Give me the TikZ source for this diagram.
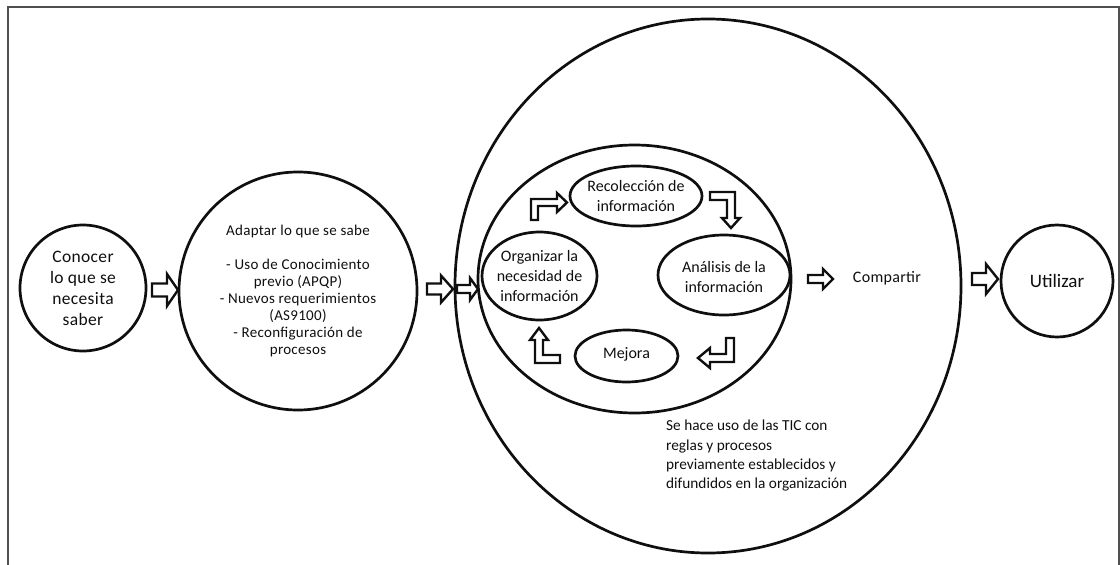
\documentclass[tikz,border=0pt]{standalone}
\usepackage{fontspec}
\setmainfont{Carlito}
\newfontfamily\widefont[LetterSpace=2]{Carlito}
\usetikzlibrary{shapes.geometric}
\definecolor{framegray}{RGB}{80,80,80}
\definecolor{ink}{RGB}{15,15,15}
% hollow block arrow pointing right: tail x, tip x, axis y, shaft half width, head half width, head length
\newcommand\hollowarrow[6]{%
  \draw[blockarrow] ({#1},{#3-#4}) -- ({#2-#6},{#3-#4}) -- ({#2-#6},{#3-#5}) -- ({#2},{#3})
    -- ({#2-#6},{#3+#5}) -- ({#2-#6},{#3+#4}) -- ({#1},{#3+#4}) -- cycle;}
\begin{document}
\begin{tikzpicture}[x=1pt,y=-1pt,
  ring/.style={draw=ink, line width=2.7pt, inner sep=0pt},
  circ/.style={ring, circle},
  oval/.style={ring, ellipse},
  txt/.style={font=\fontsize{16}{20}\selectfont, align=center, text=ink},
  blockarrow/.style={draw=ink, line width=2.4pt, fill=white, line join=miter}]
\useasboundingbox (0,0) rectangle (1120,565);

% page frame
\draw[framegray, line width=2pt] (8,565) -- (8,7) -- (1119,7) -- (1119,565);

% stages
\node[circ, minimum size=126pt, font=\widefont\fontsize{17.5}{21}\selectfont, align=center, text=ink]
  (conocer) at (83,288) {Conocer\\lo que se\\necesita\\saber};
\node[circ, minimum size=238pt, font=\widefont\fontsize{15}{17}\selectfont, align=center, text=ink]
  (adaptar) at (298,291) {Adaptar lo que se sabe\\[17pt]- Uso de Conocimiento\\previo (APQP)\\- Nuevos requerimientos\\(AS9100)\\- Reconfiguración de\\procesos};
\node[oval, minimum width=506pt, minimum height=534pt] (tic) at (708,286) {};
\node[oval, minimum width=313pt, minimum height=268pt] (ciclo) at (634.5,279) {};
\node[circ, minimum size=112pt, font=\fontsize{19}{22}\selectfont, text=ink]
  (utilizar) at (1057,281) {Utilizar};

% inner cycle
\node[oval, minimum width=132pt, minimum height=60pt,
  label={[txt]center:Recolección de\\información}] (recoleccion) at (636,196) {};
\node[oval, minimum width=115pt, minimum height=88pt,
  label={[txt]center:Organizar la\\necesidad de\\información}] (organizar) at (539.5,276) {};
\node[oval, minimum width=132pt, minimum height=80pt,
  label={[txt, yshift=-2pt]center:Análisis de la\\información}] (analisis) at (724,275) {};
\node[oval, minimum width=103pt, minimum height=52pt,
  label={[txt, yshift=2pt]center:Mejora}] (mejora) at (626.5,356) {};

% free texts
\node[txt, font=\widefont\fontsize{16}{18}\selectfont] (compartir) at (887,278) {Compartir};
\node[font=\fontsize{15.3}{19.3}\selectfont, align=left, anchor=north west, inner sep=0pt, text=ink]
  (nota) at (666,420) {Se hace uso de las TIC con\\reglas y procesos\\previamente establecidos y\\difundidos en la organización};

% straight block arrows
\hollowarrow{152}{178}{290}{6.5}{16}{11}
\hollowarrow{427}{453}{289}{5.5}{13.5}{12}
\hollowarrow{457}{478}{289}{4}{11}{8}
\hollowarrow{808}{833}{279}{4}{10}{10}
\hollowarrow{972}{998}{279}{6}{15}{12}

% bent arrows of the cycle
\draw[blockarrow] (531,220) -- (531,199) -- (557,199) -- (557,193) -- (567,202.5)
  -- (557,212) -- (557,206) -- (538,206) -- (538,220) -- cycle;
\draw[blockarrow] (710,192) -- (735,192) -- (735,218) -- (740,218) -- (731,228)
  -- (722,218) -- (727,218) -- (727,200) -- (710,200) -- cycle;
\draw[blockarrow] (734,338) -- (734,362) -- (710,362) -- (710,368) -- (698,358)
  -- (710,348) -- (710,354) -- (726,354) -- (726,338) -- cycle;
\draw[blockarrow] (560,363) -- (535,363) -- (535,340) -- (530,340) -- (539,328)
  -- (548,340) -- (543,340) -- (543,355) -- (560,355) -- cycle;
\end{tikzpicture}
\end{document}
